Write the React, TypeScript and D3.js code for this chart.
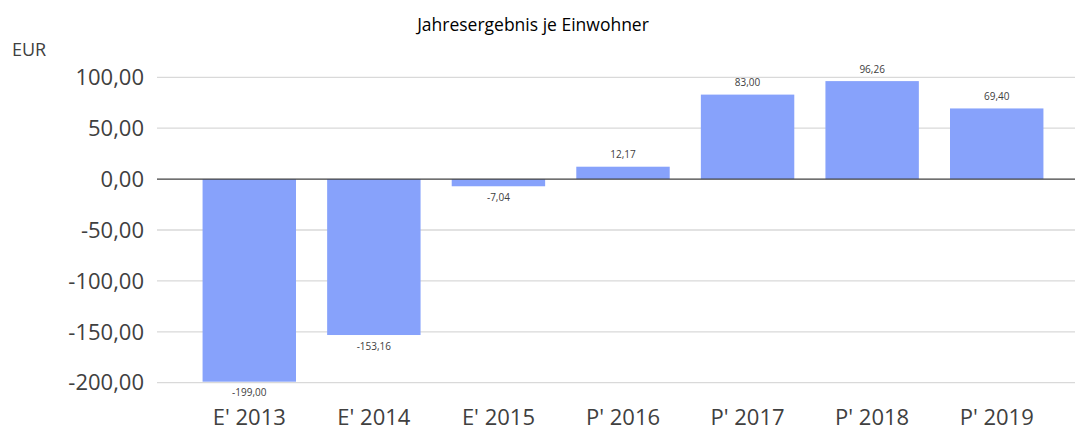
import React from "react";
import * as d3 from "d3";

const categories = ["E' 2013", "E' 2014", "E' 2015", "P' 2016", "P' 2017", "P' 2018", "P' 2019"];
const values = [-199.0, -153.16, -7.04, 12.17, 83.0, 96.26, 69.4];
const yTicks = [100, 50, 0, -50, -100, -150, -200];
const title = "Jahresergebnis je Einwohner";
const unit = "EUR";

const W = 1075;
const H = 430;
const FONT = "'Open Sans', 'Noto Sans', sans-serif";

const fmt = (v: number) => v.toFixed(2).replace(".", ",");

export default function App() {
  const x = d3.scaleBand<string>().domain(categories).range([187, 1059]).paddingInner(0.25).paddingOuter(0.125);
  const y = d3.scaleLinear().domain([-200, 100]).range([382.7, 77.3]);
  const gridLeft = 157;
  const gridRight = W;

  return (
    <svg width={W} height={H} style={{ position: "absolute", left: 0, top: 0, background: "#fff" }} fontFamily={FONT}>
      <text x={533} y={31} textAnchor="middle" fontSize={17.5} fill="#000">{title}</text>
      <text x={12} y={56} fontSize={18} fill="#404040">{unit}</text>
      {yTicks.map((t) => (
        <g key={t}>
          {t !== 0 && (
            <line x1={gridLeft} x2={gridRight} y1={y(t)} y2={y(t)} stroke="#d9d9d9" strokeWidth={1.3} />
          )}
          <text x={144} y={y(t)} dy="0.35em" textAnchor="end" fontSize={22} fill="#404040">{fmt(t)}</text>
        </g>
      ))}
      {categories.map((c, i) => {
        const v = values[i];
        const x0 = x(c)!;
        const bw = x.bandwidth();
        const top = y(Math.max(0, v));
        const bot = y(Math.min(0, v));
        return (
          <g key={c}>
            <rect x={x0} y={top} width={bw} height={bot - top} fill="#87a2fb" />
            <text
              x={x0 + bw / 2}
              y={v >= 0 ? top - 12 : bot + 11}
              dy="0.35em"
              textAnchor="middle"
              fontSize={10}
              fill="#404040"
            >
              {fmt(v)}
            </text>
            <text x={x0 + bw / 2} y={425} textAnchor="middle" fontSize={22} fill="#404040">{c}</text>
          </g>
        );
      })}
      <line x1={gridLeft} x2={gridRight} y1={y(0)} y2={y(0)} stroke="#404040" strokeWidth={1.3} />
    </svg>
  );
}
